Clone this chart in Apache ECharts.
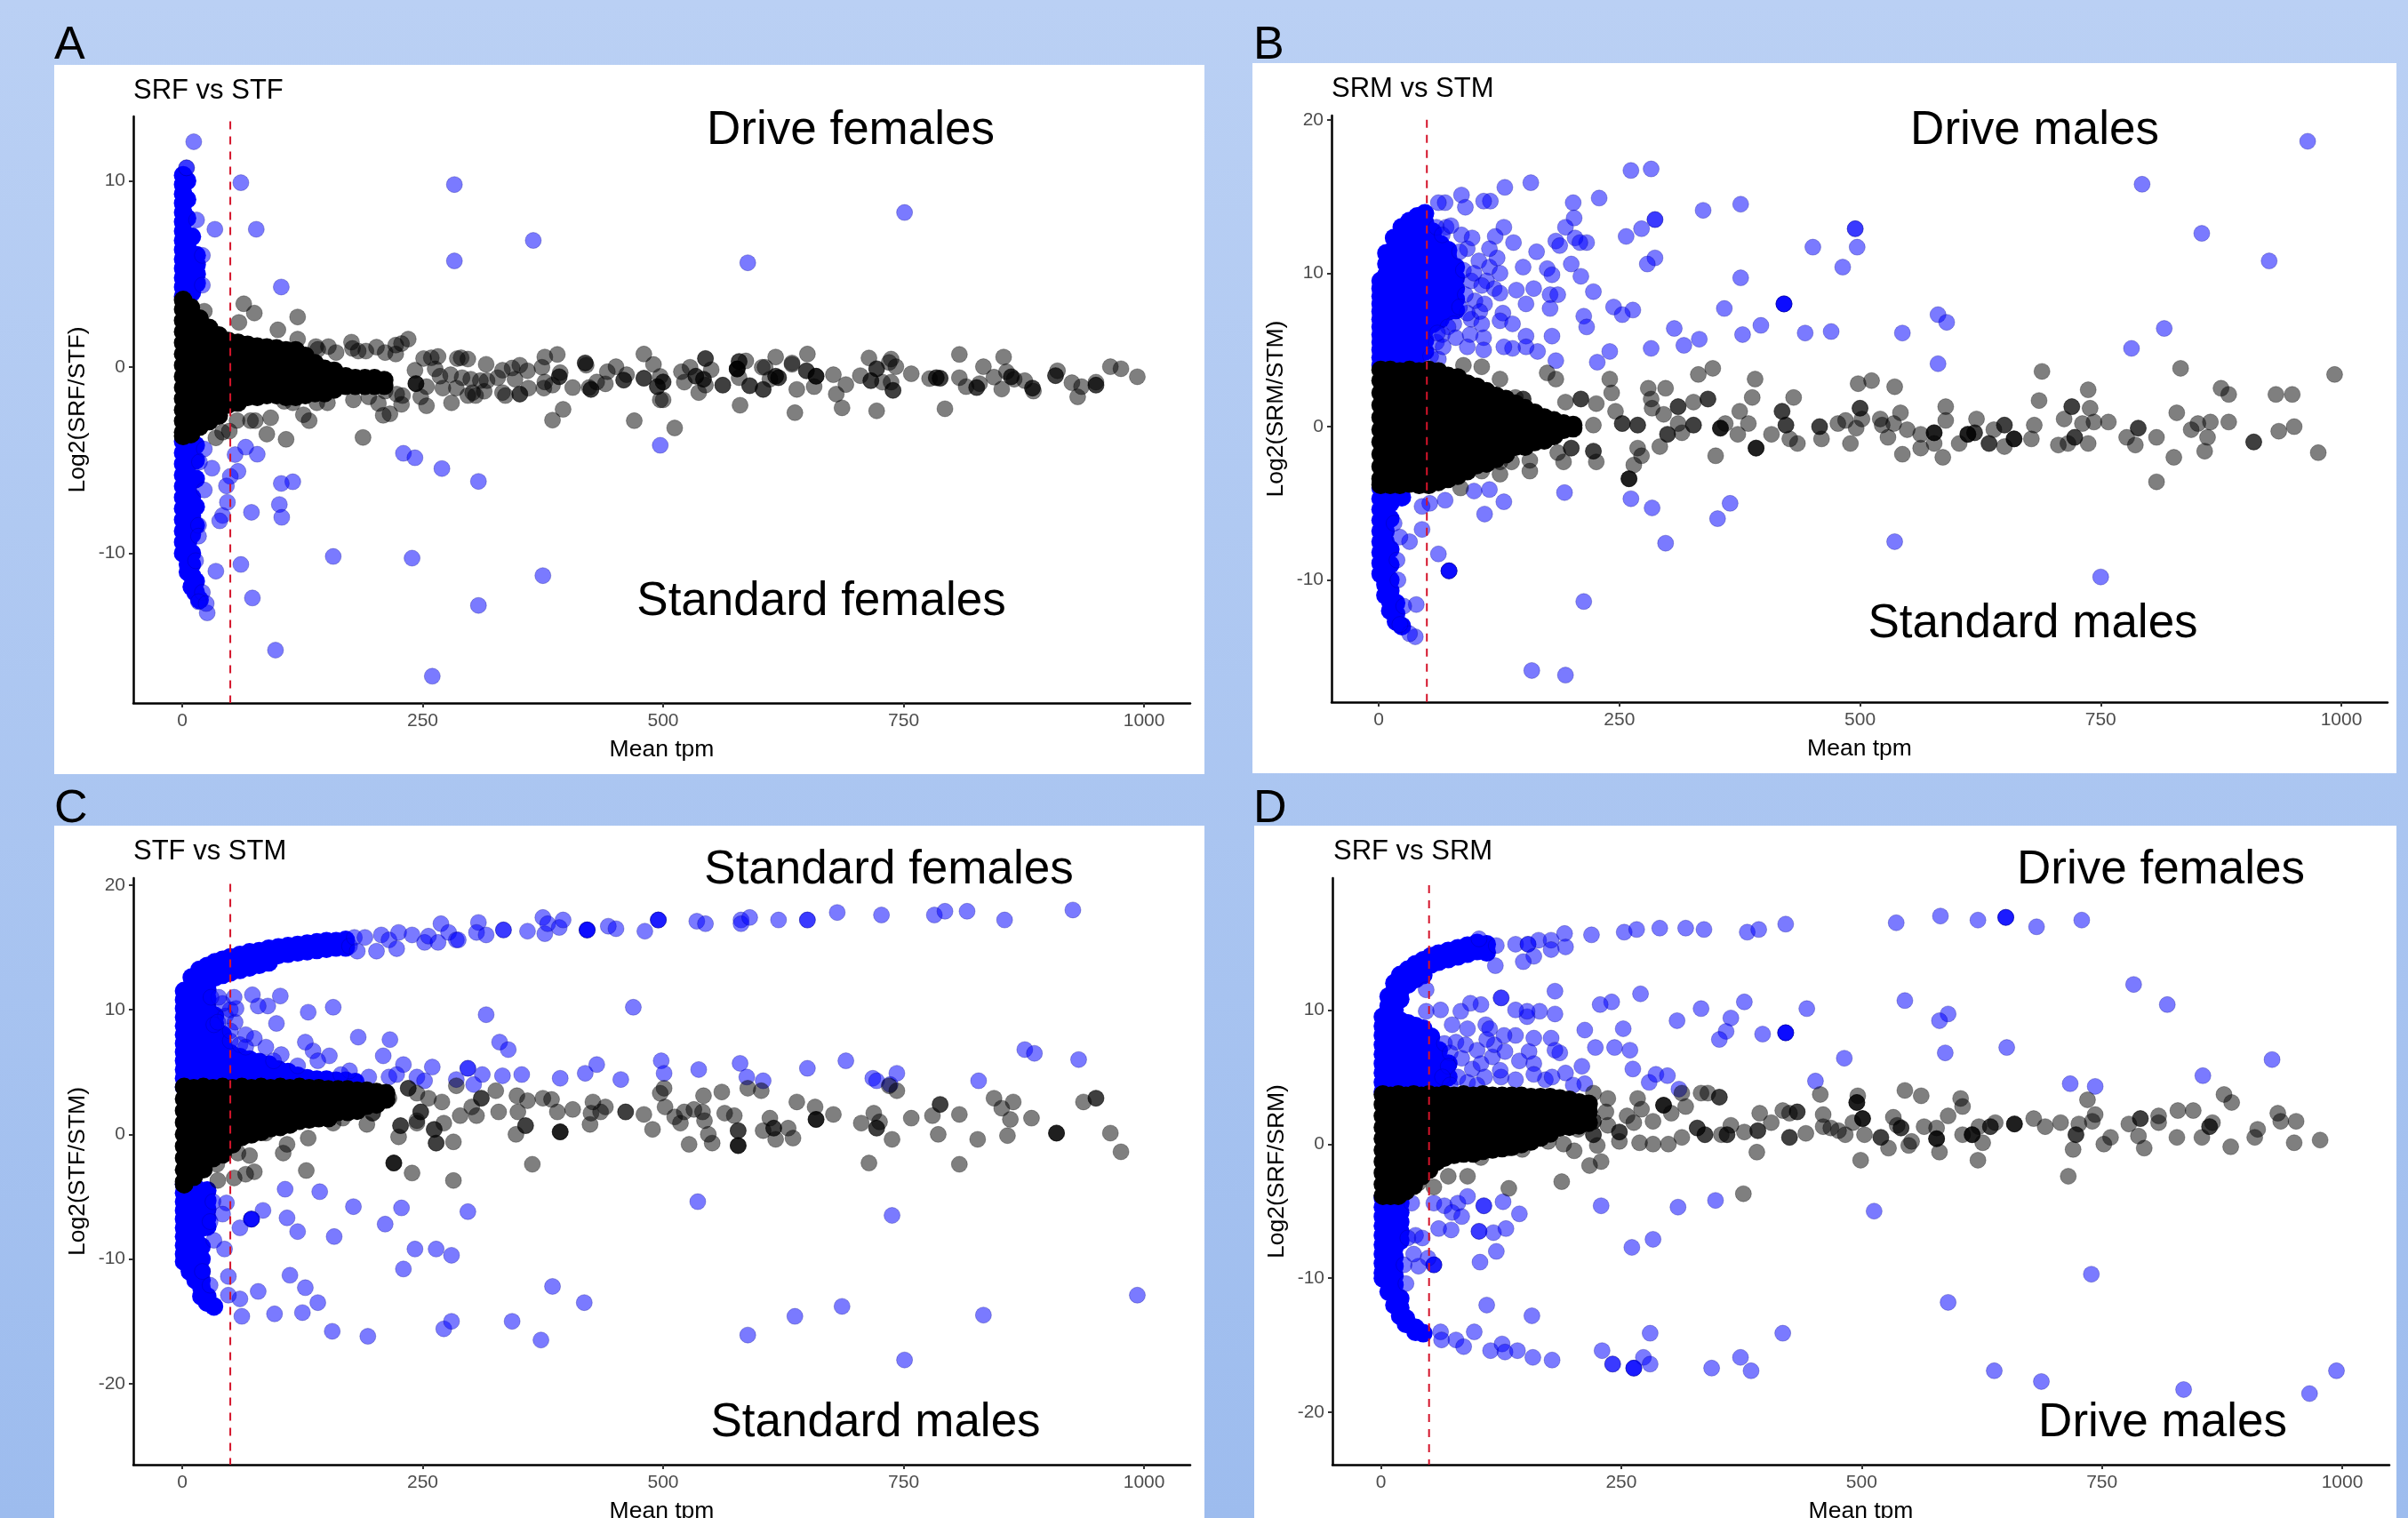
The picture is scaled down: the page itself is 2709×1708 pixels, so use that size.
<!DOCTYPE html>
<html><head><meta charset="utf-8"><style>html,body{margin:0;padding:0}#c{width:2709px;height:1708px}</style>
<script src="https://cdn.jsdelivr.net/npm/echarts@6/dist/echarts.min.js"></script></head><body><div id="c"></div>
<script>
const xTicks=[0,250,500,750,1000];
const aTicks=[-10,0,10], bTicks=[-10,0,10,20], cTicks=[-20,-10,0,10,20], dTicks=[-20,-10,0,10];
// solid regions: each row is [x, y, y, y...]
const aBlueCore=[[1,10.3,9.8,9.3,8.8,8.3,7.8,7.3,6.8,6.3,5.8,5.3,4.8,4.3,3.8],[5,10,9,8,7,6.5,6,5.5,5,4.5,4],[10,7,6,5.5,5,4.5,4],[15,6,5.5,5,4.5],
[1,-4,-4.6,-5.2,-5.8,-6.4,-7,-7.6,-8.2,-8.8,-9.4,-10],[6,-4,-4.6,-5.2,-5.8,-6.4,-7,-7.6,-8.2,-8.8,-9.4,-10,-10.6,-11],[10,-4,-5,-6,-7,-8,-9,-10,-10.6,-11.2,-11.8],[14,-4.2,-5,-6,-7.5,-8.5,-11.5,-12.1],[18,-12.5]];
const aBlackCore=[[1,3.6,3.1,2.5,1.9,1.3,.7,.1,-.5,-1.1,-1.7,-2.3,-2.9,-3.5,-3.7],[9,3.2,2.7,2.1,1.5,.9,.3,-.3,-.9,-1.5,-2.1,-2.7,-3.3,-3.6],[18,2.6,2.1,1.5,.9,.3,-.3,-.9,-1.5,-2.1,-2.7,-3.2],[28,2.1,1.6,1,.4,-.2,-.8,-1.4,-2,-2.6,-2.9],[38,1.7,1.2,.6,0,-.6,-1.2,-1.8,-2.4,-2.6],[48,1.4,.9,.3,-.3,-.9,-1.5,-2],[58,1.3,.8,.2,-.4,-1,-1.6,-1.9],[68,1.2,.7,.1,-.5,-1.1,-1.6],[78,1.1,.6,0,-.6,-1.2,-1.6],[88,1.05,.55,-.05,-.65,-1.25,-1.5],[98,1,.5,-.1,-.7,-1.3,-1.5],[108,.9,.4,-.2,-.8,-1.4,-1.6],[118,.9,.4,-.2,-.8,-1.4,-1.6],[128,.6,.2,-.4,-1,-1.5],[138,.2,-.3,-.9,-1.4],[148,-.1,-.5,-1.1,-1.4],[158,-.2,-.7,-1.2],[170,-.5,-1],[180,-.6,-1],[190,-.6,-1],[200,-.6,-1],[210,-.7,-1]];
const aBlue=[12,12.1,61,9.9,283,9.8,365,6.8,751,8.3,283,5.7,588,5.6,103,4.3,77,7.4,34,7.4,15,7.9,21,6,21,4.4,4.5,10.7,4.5,10.7,497,-4.2,230,-4.63,242,-4.87,270,-5.45,308,-6.14,157,-10.17,239,-10.26,61,-10.6,35,-10.96,375,-11.2,73,-12.4,308,-12.8,26,-13.2,97,-15.2,260,-16.6,115,-6.16,103,-6.25,101,-7.38,103.5,-8.07,72,-7.8,47,-7.26,42,-7.97,39,-8.26,58,-5.6,50,-5.87,46,-6.38,55,-4.7,78,-4.68,66,-4.3,31,-5.43,23,-6.6,17,-8.5,17,-9.08,21,-12.1,17,-12.6,25,-12.7,14,-10.4,23,-4.4,18,-5.1];
const aBlack=[120,2.69,99.5,2,120,1.5,139,1.1,141,.95,152,1.1,160,.78,176,1.34,177,1,183,.86,191,.86,202,1.07,235,1.5,228,1.26,222,1.18,222,.7,211,.78,251,.46,259,.5,266,.57,286,.46,290,.5,297,.43,316,.15,333,-.17,343,-.05,351,.1,359,-.2,377,.54,390,.68,374,-.01,393,-.3,392,-.52,392,-.52,419,.22,419,.22,420,.1,451,.02,442,-.25,462,-.41,459,-.7,459,-.7,480,.7,490,.14,480,-.6,480,-.6,497,-.5,500,-.8,500,-.8,494,-1.05,494,-1.05,500,-1.76,497,-1.76,470,-2.88,512,-3.27,385,-2.85,396,-2.27,406,-1.1,423,-1.1,425,-1.2,425,-1.2,431,-.8,440,-.9,376,-1.13,377,-.8,385,-.97,351,-1.45,351,-1.45,336,-1.53,333,-1.37,360,-1.13,314,-1.3,305,-1.53,297,-1.53,302,-1.37,280,-1.92,285,-1.13,271,-1.13,268,-.49,263,-.1,279,-.41,291,-.57,300,-.65,310,-.73,317,-.73,328,-.57,346,-.65,254,-2.08,243,-.89,243,-.89,243,-.89,254,-1.05,242,-.17,248,-1.6,228,-2,229,-1.53,223,-1.45,216,-2.51,209,-2.59,204,-1.95,194,-1.6,178,-1.76,211,-1.29,188,-3.78,132,-2.88,126,-2.56,108,-3.88,92,-2.72,88,-3.6,151,-1.92,140,-1.92,115,-1.92,106,-1.84,64,3.4,75,2.9,59,2.4,23,3,76,-2.88,71,-2.88,57,-2.87,49,-3.44,35,-3.8,42,-3.5,519,-.25,522,-.81,528,-.01,534,-.49,534,-.49,542,-.65,542,-.65,544,.46,544,.46,550,-.14,537,-1.37,544,-.97,562,-.97,562,-.97,617,.54,650,.7,603,-.01,606,-.01,634,.22,634,.15,649,-.2,649,-.2,659,-.49,659,-.49,659,-.49,657,-1.05,639,-1.2,637,-2.45,617,-.49,617,-.49,620,-.57,620,-.57,611,-.65,604,-1.2,604,-1.2,590,-1,590,-1,580,-2.05,577,-.1,577,-.1,577,-.1,577,-.1,586,.33,579,.3,579,.3,579,-.57,677,-.41,690,-.94,680,-1.45,686,-2.19,705,-.46,714,.49,722,-.09,722,-.09,716,-.73,716,-.73,728,-.81,737,.43,735,.25,742,.02,758,-.36,737,-.81,739,-1.25,739,-1.25,722,-2.35,777,-.62,784,-.57,784,-.57,788,-.6,788,-.6,793,-2.24,808,.68,808,-.57,815,-1.05,826,-1.1,826,-1.1,829,-.89,833,.02,844,-.54,854,.54,852,-1.18,857,-.25,862,-.52,862,-.52,865,-.65,876,-.73,884,-1.13,884,-1.13,885,-1.29,910,-.2,908,-.46,908,-.46,925,-.84,935,-1.05,931,-1.6,950,-.81,950,-.97,950,-.97,965,.02,976,-.09,993,-.52];
const bBlueCore=[[2,9.5,9,8.5,8,7.5,7,6.5,6,5.5,5,4.5,4],[8,11.3,10.6,9.9,9.2,8.5,7.8,7.1,6.4,5.7,5,4.3],[16,12.3,11.6,10.9,10.2,9.5,8.8,8.1,7.4,6.7,6,5.3,4.6,4],[24,13,12.3,11.6,10.9,10.2,9.5,8.8,8.1,7.4,6.7,6,5.3,4.6,4],[32,13.4,12.7,12,11.3,10.6,9.9,9.2,8.5,7.8,7.1,6.4,5.7,5,4.3],[40,13.7,13,12.3,11.6,10.9,10.2,9.5,8.8,8.1,7.4,6.7,6,5.3,4.6],[48,13.9,13.3,12.6,11.9,11.2,10.5,9.8,9.1,8.4,7.7,7,6.3,5.6,4.9],[56,12.7,12.3,11.6,10.9,10.2,9.5,8.8,8.1,7.4,6.7],[64,11.9,11.2,10.5,9.8,9.1,8.4,7.7,7],[72,11.5,11,10.3,9.6,8.9,8.2,7.5],[80,10.4,9.7,9,8.3,7.6],
[2,-4,-4.7,-5.4,-6.1,-6.8,-7.5,-8.2,-8.9,-9.6],[7,-4,-4.7,-5.4,-6.1,-6.8,-7.5,-8.2,-8.9,-9.6,-10.3,-11],[12,-4.2,-5,-6,-8,-9,-10,-10.7,-11.4,-12],[18,-4.5,-11.5,-12.2,-12.7],[24,-4.6,-13]];
const bBlackCore=[[2,3.7,3,2.2,1.4,.6,-.2,-1,-1.8,-2.6,-3.4,-3.8],[12,3.7,3,2.2,1.4,.6,-.2,-1,-1.8,-2.6,-3.4,-3.8],[22,3.6,3,2.2,1.4,.6,-.2,-1,-1.8,-2.6,-3.4,-3.8],[32,3.7,3,2.2,1.4,.6,-.2,-1,-1.8,-2.6,-3.4,-3.7],[42,3.6,3,2.2,1.4,.6,-.2,-1,-1.8,-2.6,-3.4,-3.8],[52,3.7,3,2.2,1.4,.6,-.2,-1,-1.8,-2.6,-3.4,-3.8],[62,3.6,3,2.2,1.4,.6,-.2,-1,-1.8,-2.6,-3.4,-3.6],[72,3.3,2.7,1.9,1.1,.3,-.5,-1.3,-2.1,-2.9,-3.4],[82,3.2,2.7,1.9,1.1,.3,-.5,-1.3,-2.1,-2.9,-3.2],[92,2.8,2.2,1.4,.6,-.2,-1,-1.8,-2.6,-2.9],[102,2.6,2.1,1.3,.5,-.3,-1.1,-1.9,-2.5],[112,2.3,1.8,1,.2,-.6,-1.4,-2.2,-2.4],[122,2,1.5,.7,-.1,-.9,-1.7,-2.1],[132,1.8,1.2,.4,-.4,-1.2,-1.8],[142,1.5,.9,.1,-.7,-1.3],[152,1.2,.6,-.2,-1,-1.3],[162,.9,.2,-.6,-1],[172,.6,0,-.7,-.9],[182,.4,-.2,-.6],[192,.2,-.2],[202,.1,-.1]];
const bBlue=[96,9.5,100,8.2,104,10.8,96,7,92,11.6,86,12.5,70,13,78,6.7,72,6.5,60,5.5,66,6,54,4.6,62,4.4,80,5.8,110,8,112,9.5,105,7.5,95,6,115,10.4,120,9,84,11.4,88,10.2,60,13,66,12.5,90,8.6,965,18.6,793,15.8,855,12.6,925,10.8,816,6.4,782,5.1,750,-9.8,536,-7.5,495,12.9,495,12.9,497,11.7,451,11.7,482,10.4,421,8,421,8,421,8,421,8,443,6.1,470,6.2,397,6.6,378,6,376,9.7,359,7.7,376,14.5,337,14.1,283,16.8,262,16.7,287,13.5,287,13.5,273,12.9,257,12.4,287,11,279,10.6,244,7.8,264,7.6,253,7.3,307,6.4,333,5.7,317,5.3,283,5.1,240,4.9,227,4.2,544,6.1,581,7.3,590,6.8,581,4.1,229,14.9,202,14.6,203,13.6,194,13,216,12,204,12.3,209,12,184,12.1,188,11.8,200,10.6,210,9.8,223,8.8,213,7.2,216,6.5,180,5.9,165,4.9,184,4.3,158,15.9,131,15.6,116,14.7,109,14.7,86,15.1,69,14.6,62,14.6,90,14.3,75,13.1,97,12.3,130,13,121,12.4,140,12,164,11.4,150,10.4,175,10.3,180,9.9,161,9,178,8.6,186,8.6,178,7.7,153,8,143,8.9,129,7.4,126,6.9,139,6.7,153,5.9,153,5.2,139,5.1,130,5.2,109,5.8,109,5,92,5.2,67,5.2,126,10,123,11,115,11.6,99,10,107,9.2,126,8.7,92,7.4,84,7.8,61,6.1,107,6.7,193,-4.3,262,-4.7,284,-5.3,365,-5,352,-6,298,-7.6,99,-4.2,115,-4.1,130,-4.9,110,-5.7,69,-4.8,53,-5,45,-5.2,45,-6.7,32,-7.5,62,-8.3,73,-9.4,73,-9.4,73,-9.4,73,-9.4,213,-11.4,39,-11.6,26,-11.7,159,-15.9,194,-16.2,19,-8.7,20,-10,16,-6.3,22,-7.2,38,-13.7,32,-13.5,22,-12.9];
const bBlack=[993,3.4,949,2.1,932,2.1,951,0,935,-.3,976,-1.7,909,-1,909,-1,883,2.1,875,2.5,883,.3,864,.3,851,.2,844,-.2,861,-.7,858,-1.6,833,3.8,829,.9,826,-2,808,-.7,808,-3.6,789,-.1,789,-.1,777,-.7,786,-1.2,758,.3,743,.3,739,1.2,737,2.4,720,1.3,720,1.3,712,.5,731,.2,723,-.7,723,-.7,737,-1.1,716,-1.1,706,-1.2,689,3.6,686,1.7,681,.1,678,-.8,660,-.8,660,-.8,660,-.8,650,.1,650,.1,650,-1.3,634,-1.1,634,-1.1,639,-.2,621,.5,619,-.4,619,-.4,612,-.5,612,-.5,612,-.5,603,-1.1,589,1.3,589,.4,586,-2,577,-.4,577,-.4,577,-.4,577,-1.1,563,-1.4,563,-.5,549,-.2,542,.9,544,-1.8,536,2.6,535,.2,523,.1,529,-.7,512,3,498,2.8,500,1.2,500,1.2,521,.5,502,.5,496,-.1,490,-1.1,477,.2,485,.4,460,-.8,458,0,458,0,431,1.9,419,1,419,1,423,.1,423,.1,435,-1.1,427,-.8,408,-.5,392,-1.4,392,-1.4,392,-1.4,384,.2,388,1.9,391,3.1,375,1,373,-.5,355,-.1,355,-.1,355,-.1,360,.2,350,-1.9,347,3.8,332,3.4,342,1.8,342,1.8,327,1.6,327,.1,327,.1,315,-.4,298,2.5,280,2.5,283,1.8,284,1.2,296,.8,311,1.3,311,1.3,311,.2,300,-.5,300,-.5,292,-1.3,269,.1,269,.1,269,-1.4,273,-1.9,265,-2.5,260,-3.4,260,-3.4,260,-3.4,253,.2,253,.2,246,1,242,2.2,240,3.1,226,1.5,226,-2.3,223,-1.6,223,-1.6,223,.1,210,1.8,210,1.8,194,1.6,200,-1.4,200,-1.4,192,-2.3,186,-1.7,184,3.1,175,3.5,157,-2.9,157,-2.2,138,-2.3,126,-3.1,126,-2.3,107,-2.9,85,-4,150,1.8,150,1.8,142,1.9,126,3.1,107,3.9,88,4];
const cBlueCore=[[2,11.5,10.8,10.1,9.4,8.7,8,7.3,6.6,5.9,5.2,4.5,3.8],[10,12.6,11.9,11.2,10.5,9.8,9.1,8.4,7.7,7,6.3,5.6,4.9,4.2],[18,13.2,12.6,12,11.4,10.8,10.1,9.4,8.7,8,7.3,6.6,5.9,5.2,4.5],[26,13.5,12.9,12.3,11.6,10.9,10.2,9.5,8.8,8.1,7.5,6.8,6.1,5.4,4.7,4],[34,13.8,13.2,12.6,9.5,8.8,8.1,7.6,7,6.3,5.6,4.9,4.2],[42,14,13.4,12.8,8,7.3,6.6,5.9,5.2,4.5],[50,14.2,13.6,13,6.5,5.8,5.1,4.4],[60,14.4,13.8,13.2,6.2,5.5,4.8,4.1],[70,14.6,14,13.4,6,5.3,4.6],[80,14.7,14.1,13.6,5.8,5.1,4.4],[90,14.9,14.3,13.8,5.6,4.9,4.2],[100,15,14.4,5.2,4.5],[110,15.1,14.5,5,4.3],[120,15.2,14.6,4.7],[130,15.3,14.7,4.5],[140,15.4,14.8,4.4],[150,15.5,14.9,4.4],[160,15.5,15,4.3],[170,15.6,15,4.3],[180,4.2],
[2,-4,-4.7,-5.4,-6.1,-6.8,-7.5,-8.2,-8.9,-9.6,-10.2],[8,-4,-4.7,-5.4,-6.1,-6.8,-7.5,-8.2,-8.9,-9.6,-10.3,-11],[14,-4.3,-5,-5.7,-6.4,-7.1,-7.8,-8.5,-9.2,-9.9,-10.6,-11.7],[20,-4.7,-5.4,-6.1,-6.8,-7.5,-9,-10,-11,-11.7,-12.3,-13],[26,-4.5,-5.3,-6,-6.7,-7.4,-13,-13.5],[33,-13.8]];
const cBlackCore=[[2,3.8,2.85,1.9,.95,0,-.95,-1.9,-2.85,-3.8,-4],[12,3.7,2.85,1.9,.95,0,-.95,-1.9,-2.85,-3.4],[22,3.8,2.85,1.9,.95,0,-.95,-1.9,-2.8],[32,3.7,2.85,1.9,.95,0,-.95,-1.9],[42,3.8,2.85,1.9,.95,0,-.95,-1.6],[52,3.7,2.85,1.9,.95,0,-.8],[62,3.8,2.85,1.9,.95,0,-.2],[72,3.7,2.85,1.9,.95,0],[82,3.8,2.85,1.9,.95,.2],[92,3.7,2.85,1.9,.95,.5],[102,3.8,2.85,1.9,1.1,.6],[112,3.7,2.85,1.9,1.1,.8],[122,3.8,2.85,1.9,1.1],[132,3.7,2.85,1.9,1.2],[142,3.7,2.85,1.9,1.3],[152,3.6,2.85,1.9,1.3],[162,3.6,2.8,1.8],[172,3.6,2.8,1.8],[182,3.5,2.8,1.9],[192,3.5,2.8,2.3],[202,3.4,2.9,2.4],[212,3.3,2.8]];
const cBlue=[45,9.5,50,10,42,10.5,38,11,50,7.5,60,7.2,66,8,30,11,55,9,174,15.1,179,15.8,182,14.7,190,15.8,202,14.7,207,16,215,15.6,223,14.9,225,16.2,239,16,252,15.4,256,15.9,266,15.4,269,16.9,277,16.2,285,15.6,287,15.6,308,17,306,16.2,316,16,334,16.4,334,16.4,359,16.3,375,17.4,377,16.1,380,16.9,392,16.6,396,17.2,421,16.4,421,16.4,421,16.4,421,16.4,443,16.7,451,16.5,481,16.3,495,17.2,495,17.2,495,17.2,535,17.1,544,16.9,581,17.2,581,16.9,590,17.4,620,17.2,650,17.2,650,17.2,681,17.8,727,17.6,782,17.6,793,17.9,816,17.9,855,17.2,926,18,469,10.2,316,9.6,157,10.2,131,9.8,102,11.1,89,10.3,79,10.3,73,11.2,56,10.1,54,11,98,8.9,50,8.3,33,8.8,37,9,183,7.8,216,7.6,209,6.3,330,7.4,339,6.8,876,6.8,886,6.5,932,6,690,5.9,650,5.3,580,5.7,587,4.6,604,4.3,828,4.3,743,4.9,718,4.5,722,4.3,736,4,498,5.9,501,4.9,537,5.2,431,5.6,419,4.9,393,4.5,456,4.4,353,4.8,333,4.7,312,4.8,297,5.3,297,5.3,285,4.4,303,4,260,5.4,244,4.6,252,4.3,230,5.6,215,4.6,223,4.8,194,4.6,174,5.1,153,6.3,136,6.7,128,7.4,103,6.4,87,7,75,7.7,66,7,165,4.8,141,5.9,120,5.5,95,5.9,107,-4.4,143,-4.6,178,-5.8,228,-5.9,297,-6.2,536,-5.4,738,-6.5,84,-6.1,109,-6.7,120,-7.8,72,-6.8,72,-6.8,72,-6.8,72,-6.8,60,-7.5,46,-5.5,32,-5.4,42,-6.4,29,-7,33,-8.5,44,-9.2,211,-7.2,158,-8.2,242,-9.2,264,-9.2,280,-9.7,230,-10.8,112,-11.3,128,-12.3,79,-12.6,60,-13.2,48,-11.4,48,-12.9,141,-13.5,29,-12.1,21,-11,62,-14.6,96,-14.4,125,-14.3,156,-15.8,193,-16.2,272,-15.6,280,-15,343,-15,385,-12.2,418,-13.5,373,-16.5,588,-16.1,637,-14.6,686,-13.8,833,-14.5,751,-18.1,993,-12.9];
const cBlack=[70,-1.7,58,-1.5,36,-2.4,75,-3,66,-3.2,54,-3.5,37,-3.7,109,-.8,105,-1.5,131,-.3,129,-2.9,220,-2.3,220,-2.3,220,-2.3,239,-3.1,282,-3.7,364,-2.4,714,-2.3,808,-2.4,225,-.2,227,.7,227,.7,244,1.1,248,1.8,248,1.8,256,2.9,270,2.6,285,3.9,264,-.7,264,-.7,262,.4,262,.4,282,-.6,272,.9,289,1.5,306,1.5,301,2.2,311,2.9,311,2.9,326,3.5,329,1.8,348,3.1,349,1.8,347,0,357,.7,357,.7,359,2.7,375,2.9,390,1.8,384,2.8,406,2,393,.2,393,.2,393,.2,424,.8,427,2.6,425,1.7,440,2.2,435,1.8,461,1.8,461,1.8,480,1.6,489,.4,497,3.3,501,3.7,502,2.2,512,1.4,518,.9,522,1.8,532,2,527,-.8,542,3.1,541,1.8,543,1.1,547,0,551,-.7,561,3.4,564,1.7,574,1.5,578,.3,578,.3,578,-.9,578,-.9,578,-.9,588,3.7,602,3.5,604,.3,611,1.3,615,.5,615,.5,617,-.4,630,.5,635,-.3,639,2.6,658,2.2,659,1.2,659,1.2,659,1.2,677,1.6,706,.9,719,1.7,722,.5,722,.5,725,1,738,-.4,735,3.9,743,3.5,758,1.3,780,1.5,788,2.4,788,2.4,786,0,808,1.6,827,-.4,844,2.9,852,2.1,864,2.6,861,1.2,858,-.1,883,1.3,909,.1,909,.1,909,.1,937,2.6,950,2.9,950,2.9,965,.1,976,-1.4,157,.9,167,1.3,192,.8,198,1.7,198,1.7,149,2,174,1.8,174,1.8,207,2.8,215,2.9,235,3.7,235,3.7,244,.9,244,3.3,101,.6,87,.1,128,1.5,141,1.5];
const dBlueCore=[[2,9.5,8.8,8.1,7.4,6.7,6,5.3,4.6,3.9],[8,11,10.3,9.6,8.9,8.2,7.5,6.8,6.1,5.4,4.7,4],[14,12,11.4,10.7,10,9.3,8.6,7.9,7.2,6.5,5.8,5.1,4.4],[20,12.6,12,11.4,10.8,9.2,8.5,7.8,7.1,6.4,5.7,5,4.3],[28,13,12.4,11.9,9,8.3,7.6,6.9,6.2,5.5,4.8,4.1],[36,13.4,12.8,12.3,8.8,8.1,7.4,6.7,6,5.3,4.6],[44,13.7,13.1,12.6,8.6,7.9,7.2,6.5,5.8,5.1,4.4],[52,14,13.4,8,7.3,6.6,5.9,5.2,4.5],[60,14.2,13.6,7,6.2,5.5,4.8],[70,14.4,13.8,6,5],[80,14.6,14],[90,14.8,14.2],[100,15,14.4],[110,14.9,14.3],
[2,-4,-4.7,-5.4,-6.1,-6.8,-7.5,-8.2,-8.9,-9.6,-10],[8,-4,-4.7,-5.4,-6.1,-6.8,-7.5,-8.2,-8.9,-9.6,-10.3,-11],[14,-4.2,-4.9,-5.6,-6.3,-7,-7.7,-8.4,-9.1,-9.8,-10.5,-11.2,-12],[20,-4.4,-5.1,-5.8,-6.5,-7.2,-11.5,-12.2,-12.8],[26,-13,-13.4],[36,-13.7,-14],[44,-14.1]];
const dBlackCore=[[2,3.7,2.95,2.1,1.25,.4,-.45,-1.3,-2.15,-3,-3.85],[10,3.6,2.95,2.1,1.25,.4,-.45,-1.3,-2.15,-3,-3.85],[18,3.7,2.95,2.1,1.25,.4,-.45,-1.3,-2.15,-3,-3.85],[26,3.6,2.95,2.1,1.25,.4,-.45,-1.3,-2.15,-3,-3.5],[34,3.7,2.95,2.1,1.25,.4,-.45,-1.3,-2.15,-3.1],[42,3.6,2.95,2.1,1.25,.4,-.45,-1.3,-2.15,-2.4],[50,3.7,2.95,2.1,1.25,.4,-.45,-1.3,-1.9],[58,3.6,2.95,2.1,1.25,.4,-.45,-1.3],[66,3.7,2.95,2.1,1.25,.4,-.45,-1],[76,3.6,2.95,2.1,1.25,.4,-.45,-.8],[86,3.7,2.95,2.1,1.25,.4,-.45,-.7],[96,3.6,2.95,2.1,1.25,.4,-.45,-.7],[106,3.7,2.95,2.1,1.25,.4,-.5],[116,3.6,2.95,2.1,1.25,.4,-.4],[126,3.6,2.95,2.1,1.25,.4,-.3],[136,3.6,2.95,2.1,1.25,.4,-.2],[146,3.6,2.95,2.1,1.25,.4,0],[156,3.5,2.95,2.1,1.25,.4,.2],[166,3.5,2.95,2.1,1.25,.5],[176,3.5,2.95,2.1,1.25,.8],[186,3.4,2.9,2.1,1.25],[196,3.3,2.8,2.1,1.3],[206,3.1,2.5,1.8,1.4],[216,3,2.4,1.6]];
const dBlue=[66,7.5,72,6.8,78,7.6,84,6.4,88,7.4,95,5.6,100,7,104,6,108,5,116,6.5,70,5.8,80,5,90,4.6,64,5,72,4.4,100,4.4,118,7.4,110,7.8,125,5,102,15.3,120,14.8,140,14.9,153,14.9,153,14.9,164,15.2,177,15.2,191,15.7,192,14.7,177,14.5,159,14,148,13.6,119,13.3,219,15.6,253,15.8,266,16,290,16.1,317,16.1,336,16,381,15.8,393,16,421,16.4,536,16.5,582,17,621,16.7,650,16.9,650,16.9,650,16.9,682,16.2,729,16.7,783,11.9,818,10.4,545,10.7,590,9.7,581,9.2,587,6.8,651,7.2,927,6.3,855,5.1,717,4.5,743,4.3,452,4.7,482,6.4,443,10.1,421,8.3,421,8.3,421,8.3,421,8.3,397,8.2,378,10.6,364,9.4,359,8.4,352,7.8,333,10.1,308,9.2,270,11.2,240,10.6,228,10.4,252,8.6,212,8.5,223,7.2,243,7.2,259,7,262,5.6,279,4.6,286,5.2,298,5.1,310,4.1,209,5.8,192,5.3,212,4.5,200,4.4,181,11.4,181,9.7,165,9.9,152,9.5,152,9.9,140,10,125,10.9,125,10.9,104,10.4,93,10.5,83,9.9,62,10,140,8.1,159,7.9,177,7.9,186,6.8,181,7,154,6.9,129,6.9,144,6.2,159,6,124,5.5,171,4.8,178,5,140,4.8,159,5.2,109,8.9,113,8.6,128,8.1,90,8.6,74,8.9,47,9.9,47,11.5,32,-4.4,55,-4.4,66,-4.6,80,-4.4,90,-3.9,74,-5.1,84,-5.4,107,-4.6,107,-4.6,127,-4.3,144,-5.2,102,-6.5,102,-6.5,117,-6.6,130,-6.3,60,-6.3,73,-6.4,36,-6.8,28,-7,43,-7,120,-8,103,-8.8,55,-9,55,-9,55,-9,49,-8.5,39,-9.1,34,-8.2,24,-9,26,-10.4,110,-12,157,-12.8,590,-11.8,739,-9.7,513,-5,229,-4.6,309,-4.7,348,-4.2,283,-7.1,261,-7.7,97,-14,62,-14,63,-14.6,78,-14.6,86,-15.1,114,-15.4,126,-14.9,129,-15.5,142,-15.4,158,-15.9,178,-16.1,230,-15.4,241,-16.4,241,-16.4,263,-16.7,263,-16.7,263,-16.7,273,-15.9,280,-16.4,280,-14.1,344,-16.7,374,-15.9,385,-16.9,418,-14.1,638,-16.9,687,-17.7,835,-18.3,966,-18.6,994,-16.9];
const dBlack=[977,.3,950,.1,952,1.7,933,2.3,936,1.7,912,1.1,909,.5,885,3.1,877,3.7,884,-.2,865,1.6,862,1.3,862,1.3,854,.5,845,2.5,829,2.5,828,.5,809,2.1,809,1.6,794,-.3,790,1.9,790,1.9,788,.6,778,1.5,759,.5,752,0,743,2.2,735,3.3,740,1.7,726,1.5,723,.7,723,.7,720,-.4,715,-2.4,707,1.6,691,1.3,679,1.9,659,1.5,659,1.5,659,1.5,639,1.6,634,1.3,634,1.3,622,1.3,626,.1,621,-1.2,615,.7,615,.7,615,.7,605,.7,603,3.4,605,2.8,562,3.6,545,4,565,1.3,590,2.1,578,1.2,578,.4,578,.4,578,.4,581,-.6,552,.2,549,-.1,541,1.2,541,1.2,533,2,537,1.4,528,-.3,520,.5,520,.5,503,.7,501,1.9,501,1.9,501,1.9,499,-1.2,496,3.6,495,3.1,495,3.1,495,3.1,491,1.6,483,.7,476,1,468,1.2,460,1.3,460,2.2,457,3.7,442,.8,433,2.4,433,2.4,425,2.3,425,.5,425,.5,418,2.5,406,1.6,394,2.3,391,-.6,392,1,392,1,377,-3.7,378,.9,364,1.4,360,.7,360,.7,354,.7,337,.7,337,.7,329,1.2,329,1.2,333,3.8,352,3.5,352,3.5,340,3.8,317,2.8,313,3.8,313,.5,299,0,283,0,269,.1,248,.2,248,.9,248,.9,267,3.4,271,2.6,294,2.9,294,2.9,294,2.9,302,2.3,283,1.7,256,2.1,263,1.6,236,3.4,234,2.4,225,-.1,229,-1.3,217,-1.6,188,-2.8,201,-.5,190,0,174,.2,147,-.4,132,-.3,133,-3.3,104,-1,90,-2.4,70,-2.4,55,-3.2,39,-2.9,198,2.4,213,2.4,221,3.8,205,1.1,221,.7,221,.7,236,1.4,221,1.7,221,1.7];

const pairs=f=>{const o=[];for(let i=0;i<f.length;i+=2)o.push([f[i],f[i+1]]);return o;};
const rows=r=>{const o=[];r.forEach(a=>{for(let i=1;i<a.length;i++)o.push([a[0],a[i]]);});return o;};
const FONT='"Liberation Sans",Arial,sans-serif';
const panels=[
 {tag:'A',bx:[61,73,1294,798],l:150,r:1339,t:131,b:791,x0:-50.8,x1:1048,y0:-18.04,y1:13.46,ticks:aTicks,top:13.2,yn:'Log2(SRF/STF)',title:'SRF vs STF',tp:[150,102],tagp:[61,52],
  an:[['Drive females',957,147],['Standard females',924,677]],bc:aBlueCore,kc:aBlackCore,b2:aBlue,k2:aBlack},
 {tag:'B',bx:[1409,71,1287,799],l:1498,r:2686,t:130,b:790,x0:-49,x1:1048,y0:-17.96,y1:20.28,ticks:bTicks,top:20,yn:'Log2(SRM/STM)',title:'SRM vs STM',tp:[1498,100],tagp:[1410,52],
  an:[['Drive males',2289,147],['Standard males',2287,702]],bc:bBlueCore,kc:bBlackCore,b2:bBlue,k2:bBlack},
 {tag:'C',bx:[61,929,1294,779],l:150,r:1339,t:988,b:1648,x0:-50.8,x1:1048,y0:-26.5,y1:20.56,ticks:cTicks,top:20.1,yn:'Log2(STF/STM)',title:'STF vs STM',tp:[150,958],tagp:[61,911],
  an:[['Standard females',1000,979],['Standard males',985,1601]],bc:cBlueCore,kc:cBlackCore,b2:cBlue,k2:cBlack},
 {tag:'D',bx:[1411,929,1285,779],l:1499,r:2688,t:988,b:1648,x0:-50.5,x1:1049,y0:-23.9,y1:19.83,ticks:dTicks,top:19.3,yn:'Log2(SRF/SRM)',title:'SRF vs SRM',tp:[1500,958],tagp:[1410,911],
  an:[['Drive females',2431,979],['Drive males',2433,1601]],bc:dBlueCore,kc:dBlackCore,b2:dBlue,k2:dBlack}
];
const grid=[],xAxis=[],yAxis=[],series=[],graphic=[];
panels.forEach((p,i)=>{
 graphic.push({type:'rect',z:-5,silent:true,shape:{x:p.bx[0],y:p.bx[1],width:p.bx[2],height:p.bx[3]},style:{fill:'#fff'}});
 graphic.push({type:'text',z:50,x:p.tagp[0],y:p.tagp[1],style:{text:p.tag,font:'52px '+FONT,fill:'#000',textAlign:'left',textVerticalAlign:'middle'}});
 graphic.push({type:'text',z:50,x:p.tp[0],y:p.tp[1],style:{text:p.title,font:'31px '+FONT,fill:'#000',textAlign:'left',textVerticalAlign:'middle'}});
 p.an.forEach(a=>graphic.push({type:'text',z:50,x:a[1],y:a[2],style:{text:a[0],font:'53px '+FONT,fill:'#000',textAlign:'center',textVerticalAlign:'middle'}}));
 grid.push({left:p.l,top:p.t,width:p.r-p.l,height:p.b-p.t,containLabel:false,show:false,outerBoundsMode:'none'});
 const line={show:true,onZero:false,lineStyle:{color:'#000',width:2.5}};
 const tick=v=>({show:true,length:5,lineStyle:{color:'#333',width:2},customValues:v});
 xAxis.push({type:'value',gridIndex:i,min:p.x0,max:p.x1,axisLine:line,axisTick:tick(xTicks),splitLine:{show:false},
  axisLabel:{customValues:xTicks,formatter:v=>String(v),color:'#4d4d4d',fontSize:21,fontFamily:FONT,margin:10},name:'Mean tpm',nameLocation:'middle',nameGap:39,nameTextStyle:{color:'#000',fontSize:26.5,fontFamily:FONT}});
 yAxis.push({type:'value',gridIndex:i,min:p.y0,max:p.y1,axisLine:line,axisTick:tick(p.ticks),splitLine:{show:false},
  axisLabel:{customValues:p.ticks,formatter:v=>String(v),color:'#4d4d4d',fontSize:21,fontFamily:FONT,margin:9},name:p.yn,nameLocation:'middle',nameGap:49,nameTextStyle:{color:'#000',fontSize:26.5,fontFamily:FONT}});
 const sc=(name,data,color,z,size,edge)=>({type:'scatter',name,xAxisIndex:i,yAxisIndex:i,data,symbol:'circle',symbolSize:size,silent:true,z,clip:false,
   itemStyle:{color,opacity:1,borderColor:edge,borderWidth:edge==='transparent'?0:1},emphasis:{disabled:true}});
 series.push(sc('blue solid',rows(p.bc),'#0000ff',2,21,'transparent'));
 series.push(sc('blue',pairs(p.b2),'rgba(0,0,255,0.52)',3,18,'rgba(0,0,140,0.3)'));
 series.push(sc('black solid',rows(p.kc),'#000',4,21,'transparent'));
 series.push(sc('black',pairs(p.k2),'rgba(0,0,0,0.5)',5,18,'rgba(0,0,0,0.3)'));
 series.push({type:'line',xAxisIndex:i,yAxisIndex:i,data:[[50,p.top],[50,p.y0]],symbol:'none',silent:true,z:6,lineStyle:{color:'#d4142a',width:2,type:[9,8]}});
});
const chart=echarts.init(document.getElementById('c'),null,{renderer:'canvas',width:2709,height:1708});
chart.setOption({animation:false,tooltip:{show:false},
 backgroundColor:{type:'linear',x:0,y:0,x2:0,y2:1,colorStops:[{offset:0,color:'#bad0f4'},{offset:1,color:'#9dbcee'}]},
 grid,xAxis,yAxis,series,graphic});
</script></body></html>
